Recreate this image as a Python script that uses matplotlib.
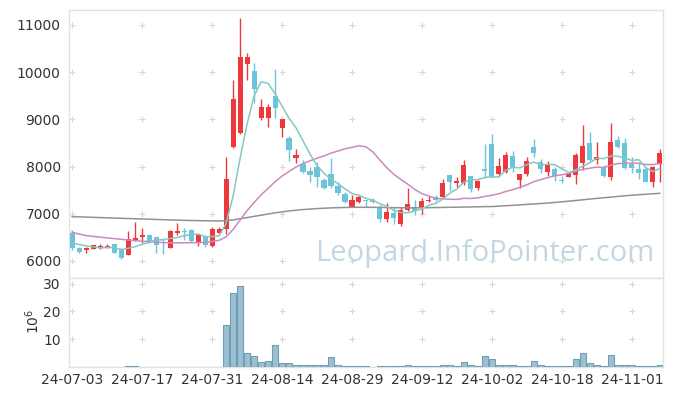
import numpy as np
import pandas as pd
import matplotlib
matplotlib.use("Agg")
import matplotlib.pyplot as plt

plt.rcParams["font.family"] = ["DejaVu Sans"]

# ── 일봉 데이터 (거래일 순서, 24-07-03 ~ 24-11-07) ──
opens = [6600, 6270, 6230, 6260, 6290, 6300, 6360, 6250, 6130, 6450,
         6500, 6550, 6500, 6470, 6280, 6600, 6640, 6660, 6400, 6510,
         6320, 6600, 6680, 8420, 8720, 10170, 10030, 9030, 9020, 9500,
         8810, 8610, 8190, 8060, 7910, 8000, 7720, 7840, 7590, 7420,
         7150, 7260, 7300, 7300, 7120, 6890, 7010, 6780, 7070, 7140,
         7120, 7270, 7350, 7350, 7820, 7650, 7650, 7800, 7540, 7950,
         8480, 7840, 7890, 8220, 7720, 7840, 8410, 8090, 7890, 7940,
         7720, 7790, 7830, 8080, 8490, 8130, 7990, 7770, 8560, 8510,
         8060, 7950, 7950, 7680, 8050]
highs = [6650, 6300, 6290, 6340, 6350, 6360, 6370, 6270, 6640, 6830,
         6690, 6570, 6510, 6490, 6650, 6800, 6690, 6680, 6570, 6560,
         6720, 6710, 8210, 9840, 11140, 10400, 10190, 9430, 9330, 10060,
         9010, 8650, 8370, 8140, 8000, 8100, 7750, 8180, 7680, 7470,
         7400, 7400, 7300, 7330, 7190, 7220, 7140, 7140, 7540, 7290,
         7330, 7380, 7390, 7730, 7830, 7790, 8150, 7810, 7720, 8480,
         8690, 8180, 8300, 8320, 7840, 8200, 8580, 8160, 8120, 7990,
         7800, 7870, 8290, 8880, 8730, 8530, 8030, 8920, 8650, 8600,
         8200, 8070, 7990, 8010, 8370]
lows = [6230, 6180, 6180, 6250, 6260, 6270, 6170, 6050, 6120, 6430,
        6390, 6380, 6160, 6140, 6270, 6550, 6440, 6410, 6320, 6300,
        6300, 6580, 6570, 8400, 8700, 9840, 9340, 8990, 8830, 9020,
        8620, 8120, 8070, 7860, 7670, 7560, 7520, 7540, 7400, 7220,
        7140, 7230, 7150, 7230, 6830, 6830, 6780, 6740, 7060, 6970,
        7000, 7260, 7280, 7330, 7490, 7570, 7610, 7470, 7500, 7750,
        7750, 7820, 7870, 7890, 7550, 7810, 8210, 7860, 7810, 7690,
        7650, 7780, 7630, 7920, 8120, 8050, 7790, 7720, 8400, 7940,
        7860, 7740, 7680, 7560, 7670]
closes = [6270, 6190, 6280, 6330, 6310, 6320, 6180, 6060, 6470, 6490,
          6550, 6410, 6340, 6450, 6640, 6640, 6610, 6430, 6550, 6330,
          6670, 6680, 7740, 9430, 10330, 10320, 9640, 9260, 9260, 9250,
          9000, 8350, 8250, 7890, 7820, 7790, 7550, 7590, 7450, 7260,
          7290, 7360, 7280, 7240, 6880, 7030, 6920, 7070, 7210, 7060,
          7270, 7290, 7290, 7660, 7680, 7700, 8030, 7520, 7690, 7910,
          7770, 8010, 8250, 7990, 7840, 8120, 8280, 7950, 8050, 7800,
          7700, 7860, 8250, 8440, 8150, 8200, 7800, 8530, 8410, 7960,
          7960, 7870, 7680, 8000, 8290]

# 거래량 (10^6 주)
volumes = [0.1, 0.1, 0.1, 0.1, 0.1, 0.1, 0.1, 0.1, 0.35, 0.35,
           0.1, 0.1, 0.1, 0.1, 0.1, 0.1, 0.1, 0.1, 0.1, 0.1,
           0.1, 0.1, 15.1, 26.6, 29.1, 4.9, 4.0, 1.8, 2.2, 7.8,
           1.3, 1.3, 0.7, 0.7, 0.7, 0.7, 0.7, 3.5, 0.6, 0.3,
           0.3, 0.3, 0.3, 0.1, 0.3, 0.3, 0.3, 0.3, 0.9, 0.3,
           0.3, 0.3, 0.3, 0.9, 0.6, 0.3, 1.7, 0.9, 0.5, 3.8,
           2.8, 0.9, 0.6, 0.6, 0.2, 0.5, 2.1, 0.9, 0.2, 0.2,
           0.2, 0.2, 2.8, 4.9, 1.3, 0.9, 0.5, 4.2, 0.9, 0.9,
           0.6, 0.2, 0.2, 0.5, 0.9]

# 이동평균: 구간 시작 전 데이터가 필요한 앞부분은 차트에서 읽은 값
ma5_head = [6380, 6350, 6320, 6300]
ma20_head = [6610, 6570, 6540, 6520, 6505, 6490, 6475, 6460, 6445, 6430,
             6420, 6410, 6400, 6390, 6385, 6385, 6385, 6388, 6390]
ma120 = [6940, 6935, 6930, 6925, 6920, 6915, 6910, 6905, 6900, 6895,
         6890, 6885, 6880, 6875, 6870, 6866, 6862, 6858, 6855, 6852,
         6850, 6848, 6855, 6870, 6895, 6920, 6945, 6970, 6995, 7020,
         7040, 7060, 7075, 7090, 7100, 7110, 7118, 7125, 7130, 7134,
         7137, 7138, 7138, 7137, 7135, 7133, 7130, 7128, 7127, 7127,
         7128, 7130, 7132, 7135, 7138, 7140, 7143, 7146, 7149, 7152,
         7153, 7162, 7171, 7180, 7190, 7199, 7208, 7218, 7228, 7240,
         7254, 7268, 7282, 7297, 7312, 7326, 7340, 7354, 7368, 7382,
         7393, 7404, 7414, 7424, 7434]

tick_labels = ["24-07-03", "24-07-17", "24-07-31", "24-08-14", "24-08-29",
               "24-09-12", "24-10-02", "24-10-18", "24-11-01"]

UP = "#ee383c"
DOWN = "#6cc4da"
GRID = "#d6d6d6"
SPINE = "#e2e2e2"
TXT = "#333333"

df = pd.DataFrame({"open": opens, "high": highs, "low": lows,
                   "close": closes, "vol": volumes})
x = np.arange(len(df))
ma5 = df["close"].rolling(5).mean().to_numpy()
ma5[:len(ma5_head)] = ma5_head
ma20 = df["close"].rolling(20).mean().to_numpy()
ma20[:len(ma20_head)] = ma20_head

fig = plt.figure(figsize=(6.73, 3.96), dpi=100)
ax = fig.add_axes([0.1025, 0.298, 0.8826, 0.6755])
axv = fig.add_axes([0.1025, 0.0732, 0.8826, 0.2248], sharex=ax)

# ── 캔들 ──
up = df["close"] >= df["open"]
colors = np.where(up, UP, DOWN)
body_lo = np.minimum(df["open"], df["close"])
body_h = np.maximum((df["close"] - df["open"]).abs(), 22)
ax.vlines(x, df["low"], df["high"], colors=colors, linewidth=1.0, zorder=3)
ax.bar(x, body_h, bottom=body_lo, width=0.72, color=colors, linewidth=0, zorder=4)

# ── 이동평균선 ──
ax.plot(x, ma120, color="#929292", linewidth=1.1, zorder=5)
ax.plot(x, ma20, color="#c98ac1", linewidth=1.1, zorder=5)
ax.plot(x, ma5, color="#86c8c0", linewidth=1.1, zorder=6)

# 워터마크
ax.text(0.70, 0.093, "Leopard.InfoPointer.com", transform=ax.transAxes,
        fontsize=21, color="#c3d7e3", ha="center", va="center",
        family="Open Sans", zorder=1)

# ── 거래량 ──
axv.bar(x, df["vol"], width=0.95, color="#9cc0d2", edgecolor="#6f9eb7",
        linewidth=0.8, zorder=3)

xt = x[::10]
ax.set_xlim(-0.45, 84.45)
ax.set_ylim(5640, 11307)
axv.set_ylim(0, 32)

ax.set_yticks([6000, 7000, 8000, 9000, 10000, 11000])
axv.set_yticks([10, 20, 30])
axv.set_xticks(xt)
axv.set_xticklabels(tick_labels)

# '+' 모양 격자
for a, ys in ((ax, [6000, 7000, 8000, 9000, 10000, 11000]), (axv, [10, 20, 30])):
    gx, gy = np.meshgrid(xt, ys)
    a.plot(gx.ravel(), gy.ravel(), "+", color=GRID, markersize=5,
           markeredgewidth=0.8, zorder=0, clip_on=False)
    for s in a.spines.values():
        s.set_color(SPINE)
        s.set_linewidth(1.0)
    a.tick_params(length=0, labelsize=10, colors=TXT, pad=6)

ax.tick_params(axis="x", labelbottom=False)
axv.tick_params(axis="x", pad=4, labelsize=10)

fig.text(0.049, 0.189, r"$10^6$", rotation=90, ha="center", va="center",
         fontsize=10, color=TXT)

fig.savefig("out.png", dpi=100)
